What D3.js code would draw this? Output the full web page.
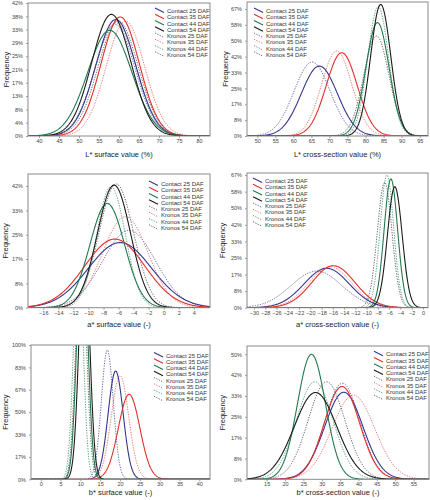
<!DOCTYPE html>
<html><head><meta charset="utf-8">
<script src="https://cdn.jsdelivr.net/npm/d3@7"></script>
<style>body{margin:0;background:#fff}svg{display:block;font-family:Arial,"Liberation Sans",sans-serif}</style>
</head><body><svg id="c" width="430" height="500"></svg>
<script>
// ---- data ----
const seriesNames = ["Contact 25 DAF","Contact 35 DAF","Contact 44 DAF","Contact 54 DAF","Kronos 25 DAF","Kronos 35 DAF","Kronos 44 DAF","Kronos 54 DAF"];
// L* surface
const lSurfMean = [59.2, 60.3, 57.7, 58.1, 59.0, 61.6, 59.2, 59.8];
const lSurfSd   = [5.0, 4.8, 5.5, 4.9, 5.0, 4.8, 5.1, 5.0];
const lSurfPeak = [36.5, 37.3, 33.1, 38.1, 35.0, 36.0, 35.5, 36.0];
// L* cross-section
const lCrossMean = [67.2, 73.4, 83.3, 84.2, 65.2, 72.0, 83.5, 83.0];
const lCrossSd   = [5.0, 4.3, 3.2, 2.8, 5.0, 4.2, 2.9, 3.5];
const lCrossPeak = [36.7, 43.7, 59.5, 69.0, 38.8, 44.6, 67.9, 52.5];
// a* surface
const aSurfMean = [-5.8, -6.5, -7.5, -6.6, -4.6, -5.1, -7.0, -6.3];
const aSurfSd   = [4.2, 4.0, 2.3, 2.2, 3.5, 3.0, 1.9, 2.3];
const aSurfPeak = [22.3, 23.5, 35.7, 42.0, 26.5, 31.2, 41.5, 42.4];
// a* cross-section
const aCrossMean = [-17.1, -15.9, -5.7, -5.0, -18.9, -16.5, -6.4, -6.8];
const aCrossSd   = [4.0, 3.8, 1.2, 1.3, 4.5, 3.8, 1.2, 1.3];
const aCrossPeak = [19.8, 21.1, 64.7, 60.8, 18.4, 20.6, 66.7, 63.0];
// b* surface
const bSurfMean = [18.9, 22.3, 10.5, 11.0, 16.8, 20.0, 9.5, 10.2];
const bSurfSd   = [1.9, 2.7, 1.3, 1.3, 1.5, 2.2, 1.2, 1.3];
const bSurfPeak = [80.6, 63.3, 190, 180, 96.3, 77.2, 170, 175];
// b* cross-section
const bCrossMean = [36.0, 35.5, 27.2, 28.3, 35.6, 38.6, 28.1, 31.3];
const bCrossSd   = [5.2, 4.8, 3.8, 5.8, 4.8, 5.8, 5.0, 5.0];
const bCrossPeak = [34.8, 37.1, 50.0, 34.7, 38.4, 33.7, 39.0, 39.0];

const xTicksLSurf = [40,45,50,55,60,65,70,75,80];
const xTicksLCross = [50,55,60,65,70,75,80,85,90,95];
const xTicksASurf = [-16,-14,-12,-10,-8,-6,-4,-2,0,2,4];
const xTicksACross = [-30,-28,-26,-24,-22,-20,-18,-16,-14,-12,-10,-8,-6,-4,-2,0];
const xTicksBSurf = [0,5,10,15,20,25,30,35,40];
const xTicksBCross = [15,20,25,30,35,40,45,50,55];
const yLabels24 = ["0%","4%","8%","13%","17%","21%","25%","29%","33%","38%","42%"];
const yLabels12a = ["0%","8%","17%","25%","33%","42%","50%","58%","67%"];
const yLabels12b = ["0%","8%","17%","25%","33%","42%"];
const yLabels12c = ["0%","8%","17%","25%","33%","42%","50%"];
const yLabels6 = ["0%","17%","33%","50%","67%","83%","100%"];

// ---- styles / layout ----
const colors = ["#36368f","#e2302a","#237a4e","#1c1c1c","#5a5aa8","#e86a64","#4f9a74","#5c5c5c"];
const panels = [
  {title:"L* surface value (%)", mean:lSurfMean, sd:lSurfSd, peak:lSurfPeak, xt:xTicksLSurf, yl:yLabels24, ystep:100/24,
   L:28,R:210,T:3,B:136, xd:[37.25,82.75], ymax:41.67, fx:6, ty:157, lx:155, ly:11},
  {title:"L* cross-section value (%)", mean:lCrossMean, sd:lCrossSd, peak:lCrossPeak, xt:xTicksLCross, yl:yLabels12a, ystep:100/12,
   L:247,R:428,T:2,B:136, xd:[47.15,97.3], ymax:70.3, fx:225, ty:157, lx:254, ly:11},
  {title:"a* surface value (-)", mean:aSurfMean, sd:aSurfSd, peak:aSurfPeak, xt:xTicksASurf, yl:yLabels12b, ystep:100/12,
   L:28,R:210,T:174,B:307.7, xd:[-18.03,6.15], ymax:45.8, fx:5, ty:327, lx:149, ly:184},
  {title:"a* cross-section value (-)", mean:aCrossMean, sd:aCrossSd, peak:aCrossPeak, xt:xTicksACross, yl:yLabels12a, ystep:100/12,
   L:247,R:428,T:173,B:307.7, xd:[-31.24,0.89], ymax:67.7, fx:222, ty:327, lx:253, ly:181},
  {title:"b* surface value (-)", mean:bSurfMean, sd:bSurfSd, peak:bSurfPeak, xt:xTicksBSurf, yl:yLabels6, ystep:100/6,
   L:31,R:210,T:345,B:479.3, xd:[-2.45,42.7], ymax:100, fx:5, ty:495, lx:154, ly:355.5},
  {title:"b* cross-section value (-)", mean:bCrossMean, sd:bCrossSd, peak:bCrossPeak, xt:xTicksBCross, yl:yLabels12c, ystep:100/12,
   L:247,R:429,T:346,B:479.3, xd:[9.64,59.2], ymax:53.3, fx:222, ty:495, lx:374, ly:354.3}
];

const svg = d3.select("#c");
const defs = svg.append("defs");

panels.forEach((p, pi) => {
  const x = d3.scaleLinear().domain(p.xd).range([p.L, p.R]);
  const y = d3.scaleLinear().domain([0, p.ymax]).range([p.B, p.T]);
  const g = svg.append("g");
  defs.append("clipPath").attr("id", "clip" + pi).append("rect")
    .attr("x", p.L).attr("y", p.T).attr("width", p.R - p.L).attr("height", p.B - p.T);

  // axes
  const yTickVals = p.yl.map((_, i) => i * p.ystep);
  const yAxis = d3.axisLeft(y).tickValues(yTickVals).tickFormat((d, i) => p.yl[i]).tickSize(2).tickPadding(3);
  const xAxis = d3.axisBottom(x).tickValues(p.xt).tickFormat(d3.format("d")).tickSize(2).tickPadding(1.2);
  const ya = g.append("g").attr("transform", `translate(${p.L},0)`).call(yAxis);
  const xa = g.append("g").attr("transform", `translate(0,${p.B})`).call(xAxis);
  [ya, xa].forEach(a => {
    a.select(".domain").remove();
    a.selectAll("line").attr("stroke", "#777").attr("stroke-width", 0.7);
    a.selectAll("text").attr("font-size", 5.5).attr("fill", "#444").attr("font-family", "Arial, 'Liberation Sans', sans-serif");
  });

  // curves
  const cg = g.append("g").attr("clip-path", `url(#clip${pi})`);
  const line = d3.line().x(d => x(d[0])).y(d => y(d[1]));
  const n = 300;
  const order = [4,5,6,7,0,1,2,3];
  order.forEach(si => {
    const pts = d3.range(n + 1).map(k => {
      const xv = p.xd[0] + (p.xd[1] - p.xd[0]) * k / n;
      const z = (xv - p.mean[si]) / p.sd[si];
      return [xv, p.peak[si] * Math.exp(-0.5 * z * z)];
    });
    cg.append("path").attr("d", line(pts)).attr("fill", "none")
      .attr("stroke", colors[si])
      .attr("stroke-width", si < 4 ? 1.1 : 0.9)
      .attr("stroke-dasharray", si < 4 ? null : "1.3,1.3");
  });

  // frame
  g.append("rect").attr("x", p.L).attr("y", p.T).attr("width", p.R - p.L).attr("height", p.B - p.T)
    .attr("fill", "none").attr("stroke", "#8a8a8a").attr("stroke-width", 1);

  // titles
  g.append("text").attr("x", (p.L + p.R) / 2).attr("y", p.ty).attr("text-anchor", "middle")
    .attr("font-size", 7.5).attr("fill", "#222").text(p.title);
  g.append("text").attr("transform", `translate(${p.fx + 3},${(p.T + p.B) / 2}) rotate(-90)`)
    .attr("text-anchor", "middle").attr("font-size", 7.5).attr("fill", "#222").text("Frequency");

  // legend
  const lg = g.append("g");
  seriesNames.forEach((nm, si) => {
    const yy = p.ly + si * 6.25;
    lg.append("line").attr("x1", p.lx).attr("y1", yy - 3).attr("x2", p.lx + 9).attr("y2", yy + 1.5)
      .attr("stroke", colors[si]).attr("stroke-width", si < 4 ? 1.1 : 0.9)
      .attr("stroke-dasharray", si < 4 ? null : "1.3,1.3");
    lg.append("text").attr("x", p.lx + 12).attr("y", yy + 2).attr("font-size", 6).attr("fill", "#333").text(nm);
  });
});
</script></body></html>
